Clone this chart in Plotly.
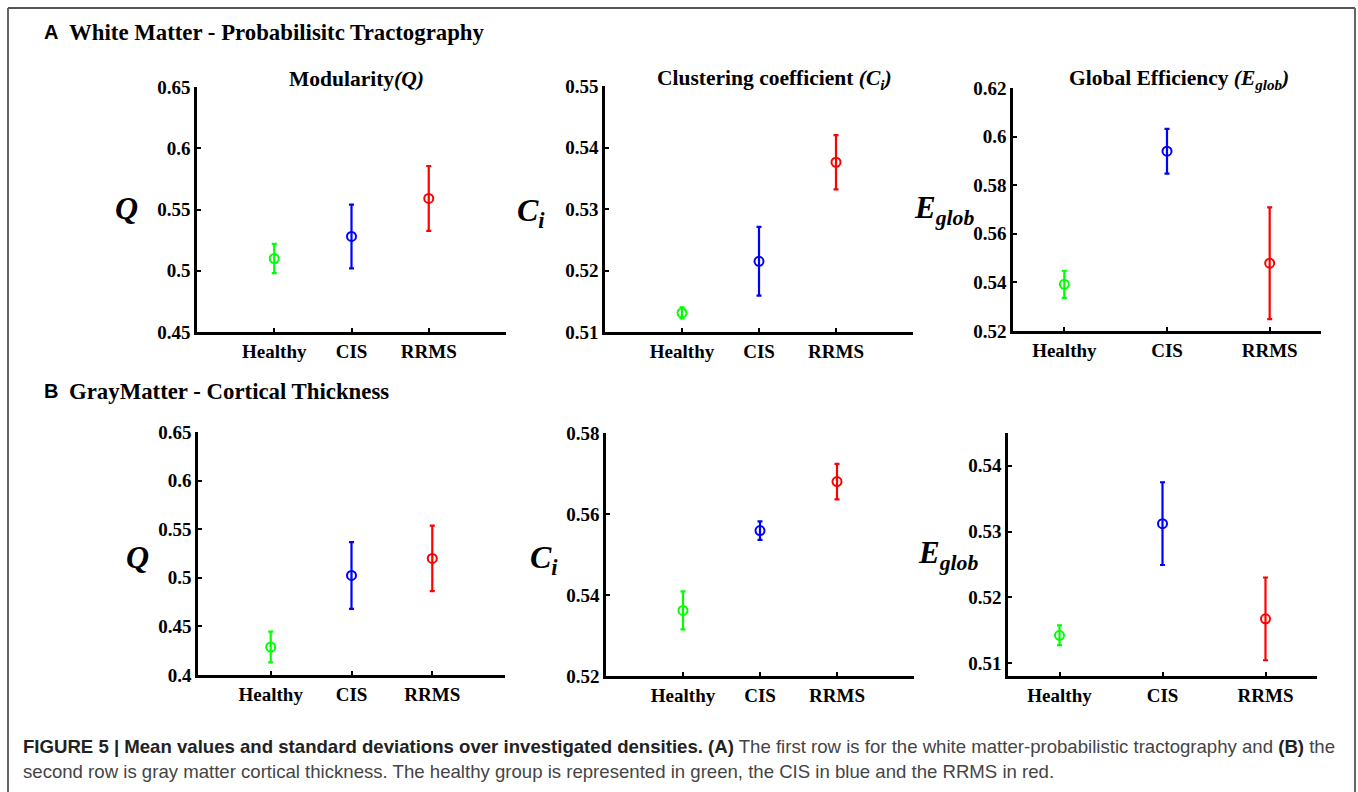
import plotly.graph_objects as go

# ---------------- data ----------------
groups = ["Healthy", "CIS", "RRMS"]
group_colors = ["#00ff00", "#0000ff", "#ff0000"]

wm_Q_mean = [0.510, 0.528, 0.559]
wm_Q_sd = [0.012, 0.026, 0.0265]
wm_C_mean = [0.5131, 0.5215, 0.5376]
wm_C_sd = [0.0009, 0.0056, 0.0044]
wm_E_mean = [0.5392, 0.5940, 0.5479]
wm_E_sd = [0.0056, 0.0092, 0.0230]

gm_Q_mean = [0.4288, 0.5024, 0.5199]
gm_Q_sd = [0.0158, 0.0344, 0.0337]
gm_C_mean = [0.5362, 0.5559, 0.5680]
gm_C_sd = [0.0047, 0.0023, 0.0044]
gm_E_mean = [0.5142, 0.5312, 0.5167]
gm_E_sd = [0.0015, 0.0063, 0.0063]

ticks_wm_Q = [0.45, 0.5, 0.55, 0.6, 0.65]
ticks_wm_C = [0.51, 0.52, 0.53, 0.54, 0.55]
ticks_wm_E = [0.52, 0.54, 0.56, 0.58, 0.6, 0.62]
ticks_gm_Q = [0.4, 0.45, 0.5, 0.55, 0.6, 0.65]
ticks_gm_C = [0.52, 0.54, 0.56, 0.58]
ticks_gm_E = [0.51, 0.52, 0.53, 0.54]

# ---------------- layout helpers ----------------
W, H = 1358, 792
SERIF = "Liberation Serif"
SANS = "Liberation Sans"

def px_x(p):
    return p / W

def px_y(p):
    return 1 - p / H

panels = [
    # means, sds, ticks, xrange, yrange, (x0,x1,ytop,ybot)
    (wm_Q_mean, wm_Q_sd, ticks_wm_Q, [0, 4], [0.45, 0.65], (197, 506, 87, 332)),
    (wm_C_mean, wm_C_sd, ticks_wm_C, [0, 4], [0.51, 0.55], (605, 913, 86, 332)),
    (wm_E_mean, wm_E_sd, ticks_wm_E, [0.5, 3.5], [0.52, 0.62], (1013, 1321, 88, 331)),
    (gm_Q_mean, gm_Q_sd, ticks_gm_Q, [0.1, 3.9], [0.40, 0.65], (198, 505, 432, 675)),
    (gm_C_mean, gm_C_sd, ticks_gm_C, [0, 4], [0.52, 0.58], (606, 914, 433, 676)),
    (gm_E_mean, gm_E_sd, ticks_gm_E, [0.5, 3.5], [0.508, 0.545], (1008, 1317, 433, 676)),
]

fig = go.Figure()
layout_axes = {}
xpos = [1, 2, 3]

for k, (means, sds, ticks, xr, yr, box) in enumerate(panels):
    n = "" if k == 0 else str(k + 1)
    xa, ya = "x" + n, "y" + n
    x0, x1, yt, yb = box
    for g in range(3):
        fig.add_trace(go.Scatter(
            x=[xpos[g]], y=[means[g]], xaxis=xa, yaxis=ya,
            mode="markers",
            marker=dict(symbol="circle-open", size=9, color=group_colors[g],
                        line=dict(width=2, color=group_colors[g])),
            error_y=dict(type="data", array=[sds[g]], visible=True,
                         color=group_colors[g], thickness=2.2, width=2.5),
            showlegend=False, hoverinfo="skip",
        ))
    layout_axes["xaxis" + n] = dict(
        domain=[px_x(x0), px_x(x1)], range=xr, anchor=ya,
        tickvals=xpos, ticktext=groups, showline=True, linecolor="black",
        linewidth=2.5, ticks="inside", ticklen=4, tickwidth=2, tickcolor="black",
        showgrid=False, zeroline=False, fixedrange=True, automargin=False,
        tickfont=dict(family=SERIF, size=19, color="black", weight="bold"),
    )
    layout_axes["yaxis" + n] = dict(
        domain=[px_y(yb), px_y(yt)], range=yr, anchor=xa,
        tickvals=ticks, ticktext=[f"{t:g}" for t in ticks],
        showline=True, linecolor="black", linewidth=2.5, ticks="inside",
        ticklen=4, tickwidth=1.5, tickcolor="black", automargin=False,
        showgrid=False, zeroline=False, fixedrange=True,
        tickfont=dict(family=SERIF, size=19, color="black", weight="bold"),
    )

annotations = []

def ann(text, x, y, size, family=SERIF, color="black", xanchor="center", yanchor="middle"):
    annotations.append(dict(
        text=text, x=px_x(x), y=px_y(y), xref="paper", yref="paper",
        showarrow=False, xanchor=xanchor, yanchor=yanchor,
        font=dict(family=family, size=size, color=color),
    ))

# panel titles
ann("<b>Modularity<i>(Q)</i></b>", 356, 79, 21.5)
ann("<b>Clustering coefficient <i>(C<sub>i</sub>)</i></b>", 774, 80, 21.5)
ann("<b>Global Efficiency <i>(E<sub>glob</sub>)</i></b>", 1179, 80, 21.5)

# y-axis labels
ann("<b><i>Q</i></b>", 126, 208, 32)
ann("<b><i>C<sub>i</sub></i></b>", 531, 212, 32)
ann("<b><i>E<sub>glob</sub></i></b>", 944, 210, 31)
ann("<b><i>Q</i></b>", 137, 557, 32)
ann("<b><i>C<sub>i</sub></i></b>", 544, 559, 32)
ann("<b><i>E<sub>glob</sub></i></b>", 948, 555, 31)

# section headers
ann("<b>A</b>", 42, 32, 20, family=SANS, xanchor="left")
ann("<b>White Matter - Probabilisitc Tractography</b>", 67, 32, 22.8, xanchor="left")
ann("<b>B</b>", 42, 391, 20, family=SANS, xanchor="left")
ann("<b>GrayMatter - Cortical Thickness</b>", 67, 391, 22.8, xanchor="left")

# caption
ann("<b><span style='color:#222'>FIGURE 5 | Mean values and standard deviations over investigated densities. (A)</span></b>"
    " The first row is for the white matter-probabilistic tractography and "
    "<b><span style='color:#222'>(B)</span></b> the",
    21, 746, 18.6, family=SANS, color="#444", xanchor="left")
ann("second row is gray matter cortical thickness. The healthy group is represented in green, "
    "the CIS in blue and the RRMS in red.",
    21, 771, 18.6, family=SANS, color="#444", xanchor="left")

# border lines
shapes = [
    dict(type="line", xref="paper", yref="paper", x0=px_x(8), x1=px_x(8), y0=px_y(8), y1=0,
         line=dict(color="#666", width=2)),
    dict(type="line", xref="paper", yref="paper", x0=px_x(8), x1=px_x(1355), y0=px_y(8), y1=px_y(8),
         line=dict(color="#555", width=2)),
    dict(type="line", xref="paper", yref="paper", x0=px_x(1355), x1=px_x(1355), y0=px_y(8), y1=0,
         line=dict(color="#666", width=2)),
]

fig.update_layout(
    width=W, height=H, autosize=False,
    margin=dict(l=0, r=0, t=0, b=0, pad=0, autoexpand=False),
    paper_bgcolor="white", plot_bgcolor="white",
    annotations=annotations, shapes=shapes,
    **layout_axes,
)

fig.write_html(
    "out.html",
    config={"displayModeBar": False},
    post_script=(
        "document.documentElement.style.margin='0';"
        "document.body.style.margin='0';"
        "document.body.style.overflow='hidden';"
        "document.documentElement.style.overflow='hidden';"
        "var gd=document.getElementById('{plot_id}');"
        "gd.style.position='fixed';gd.style.top='0px';gd.style.left='0px';"
    ),
)
